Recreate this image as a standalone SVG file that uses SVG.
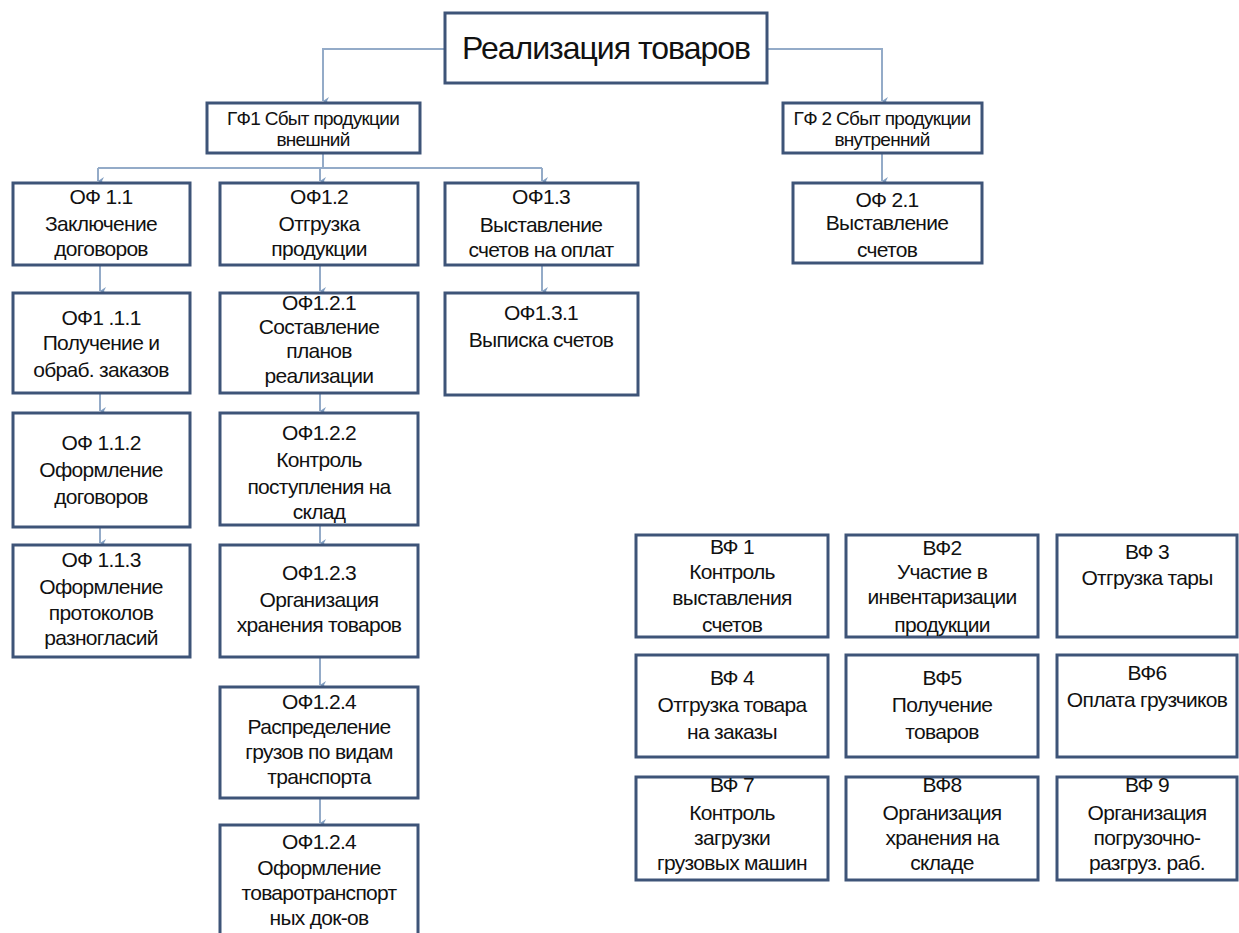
<svg xmlns="http://www.w3.org/2000/svg" width="1239" height="933" viewBox="0 0 1239 933">
<style>
.box{fill:#ffffff;stroke:#3e5478;stroke-width:3}
.t{font-family:"Liberation Sans",Arial,sans-serif;font-size:21px;fill:#111;text-anchor:middle;letter-spacing:-0.7px}
.g{font-family:"Liberation Sans",Arial,sans-serif;font-size:19px;fill:#111;text-anchor:middle;letter-spacing:-0.7px}
.title{font-family:"Liberation Sans",Arial,sans-serif;font-size:32px;fill:#111;text-anchor:middle;letter-spacing:-1px}
.c{fill:none;stroke:#94abc8;stroke-width:2}
</style>
<defs>
<marker id="ah" markerWidth="8" markerHeight="8" refX="4" refY="6" orient="auto-start-reverse" markerUnits="userSpaceOnUse" viewBox="0 0 8 8">
<path d="M0,0 L4,6 L8,0 L4,2 Z" fill="#7f9cc0"/>
</marker>
</defs>
<rect width="1239" height="933" fill="#ffffff"/>
<g id="connectors">
<path class="c" d="M445,49 H323 V101" marker-end="url(#ah)"/>
<path class="c" d="M767,49 H882 V101" marker-end="url(#ah)"/>
<path class="c" d="M323,153 V168"/>
<path class="c" d="M98,168 H542"/>
<path class="c" d="M98,168 V181" marker-end="url(#ah)"/>
<path class="c" d="M320,168 V181" marker-end="url(#ah)"/>
<path class="c" d="M542,168 V181" marker-end="url(#ah)"/>
<path class="c" d="M882,153 V181" marker-end="url(#ah)"/>
<path class="c" d="M100,265 V291" marker-end="url(#ah)"/>
<path class="c" d="M100,393 V411" marker-end="url(#ah)"/>
<path class="c" d="M100,527 V543" marker-end="url(#ah)"/>
<path class="c" d="M320,265 V291" marker-end="url(#ah)"/>
<path class="c" d="M320,393 V411" marker-end="url(#ah)"/>
<path class="c" d="M320,525 V543" marker-end="url(#ah)"/>
<path class="c" d="M320,657 V685" marker-end="url(#ah)"/>
<path class="c" d="M320,798 V823" marker-end="url(#ah)"/>
<path class="c" d="M542,265 V291" marker-end="url(#ah)"/>
</g>
<g id="root"><rect class="box" x="445" y="13" width="322" height="70"/><text class="title" x="606" y="59">Реализация товаров</text></g>
<g id="gf1"><rect class="box" x="207" y="103" width="213" height="50"/><text class="g" x="313" y="125">ГФ1 Сбыт продукции</text><text class="g" x="313" y="146">внешний</text></g>
<g id="gf2"><rect class="box" x="783" y="103" width="199" height="50"/><text class="g" x="882" y="125">ГФ 2 Сбыт продукции</text><text class="g" x="882" y="146">внутренний</text></g>
<g id="of11"><rect class="box" x="13" y="183" width="177" height="82"/><text class="t" x="101" y="204">ОФ 1.1</text><text class="t" x="101" y="231">Заключение</text><text class="t" x="101" y="256">договоров</text></g>
<g id="of111"><rect class="box" x="13" y="293" width="177" height="100"/><text class="t" x="101" y="325">ОФ1 .1.1</text><text class="t" x="101" y="350">Получение и</text><text class="t" x="101" y="377">обраб. заказов</text></g>
<g id="of112"><rect class="box" x="13" y="413" width="177" height="114"/><text class="t" x="101" y="450">ОФ 1.1.2</text><text class="t" x="101" y="477">Оформление</text><text class="t" x="101" y="504">договоров</text></g>
<g id="of113"><rect class="box" x="13" y="545" width="177" height="112"/><text class="t" x="101" y="567">ОФ 1.1.3</text><text class="t" x="101" y="594">Оформление</text><text class="t" x="101" y="620">протоколов</text><text class="t" x="101" y="645">разногласий</text></g>
<g id="of12"><rect class="box" x="220" y="183" width="198" height="82"/><text class="t" x="319" y="204">ОФ1.2</text><text class="t" x="319" y="231">Отгрузка</text><text class="t" x="319" y="256">продукции</text></g>
<g id="of121"><rect class="box" x="220" y="293" width="198" height="100"/><text class="t" x="319" y="310">ОФ1.2.1</text><text class="t" x="319" y="334">Составление</text><text class="t" x="319" y="358">планов</text><text class="t" x="319" y="383">реализации</text></g>
<g id="of122"><rect class="box" x="220" y="413" width="198" height="112"/><text class="t" x="319" y="440">ОФ1.2.2</text><text class="t" x="319" y="467">Контроль</text><text class="t" x="319" y="494">поступления на</text><text class="t" x="319" y="519">склад</text></g>
<g id="of123"><rect class="box" x="220" y="545" width="198" height="112"/><text class="t" x="319" y="580">ОФ1.2.3</text><text class="t" x="319" y="607">Организация</text><text class="t" x="319" y="632">хранения товаров</text></g>
<g id="of124a"><rect class="box" x="220" y="687" width="198" height="111"/><text class="t" x="319" y="709">ОФ1.2.4</text><text class="t" x="319" y="734">Распределение</text><text class="t" x="319" y="759">грузов по видам</text><text class="t" x="319" y="784">транспорта</text></g>
<g id="of124b"><rect class="box" x="220" y="825" width="198" height="120"/><text class="t" x="319" y="849">ОФ1.2.4</text><text class="t" x="319" y="875">Оформление</text><text class="t" x="319" y="900">товаротранспорт</text><text class="t" x="319" y="925">ных док-ов</text></g>
<g id="of13"><rect class="box" x="445" y="183" width="193" height="82"/><text class="t" x="541" y="204">ОФ1.3</text><text class="t" x="541" y="232">Выставление</text><text class="t" x="541" y="257">счетов на оплат</text></g>
<g id="of131"><rect class="box" x="445" y="293" width="193" height="102"/><text class="t" x="541" y="320">ОФ1.3.1</text><text class="t" x="541" y="347">Выписка счетов</text></g>
<g id="of21"><rect class="box" x="793" y="183" width="189" height="80"/><text class="t" x="887" y="207">ОФ 2.1</text><text class="t" x="887" y="230">Выставление</text><text class="t" x="887" y="257">счетов</text></g>
<g id="vf1"><rect class="box" x="636" y="535" width="192" height="102"/><text class="t" x="732" y="554">ВФ 1</text><text class="t" x="732" y="579">Контроль</text><text class="t" x="732" y="605">выставления</text><text class="t" x="732" y="632">счетов</text></g>
<g id="vf2"><rect class="box" x="846" y="535" width="192" height="102"/><text class="t" x="942" y="555">ВФ2</text><text class="t" x="942" y="579">Участие в</text><text class="t" x="942" y="604">инвентаризации</text><text class="t" x="942" y="632">продукции</text></g>
<g id="vf3"><rect class="box" x="1057" y="535" width="180" height="102"/><text class="t" x="1147" y="559">ВФ 3</text><text class="t" x="1147" y="585">Отгрузка тары</text></g>
<g id="vf4"><rect class="box" x="636" y="655" width="192" height="102"/><text class="t" x="732" y="685">ВФ 4</text><text class="t" x="732" y="712">Отгрузка товара</text><text class="t" x="732" y="739">на заказы</text></g>
<g id="vf5"><rect class="box" x="846" y="655" width="192" height="102"/><text class="t" x="942" y="685">ВФ5</text><text class="t" x="942" y="712">Получение</text><text class="t" x="942" y="739">товаров</text></g>
<g id="vf6"><rect class="box" x="1057" y="655" width="180" height="102"/><text class="t" x="1147" y="680">ВФ6</text><text class="t" x="1147" y="707">Оплата грузчиков</text></g>
<g id="vf7"><rect class="box" x="636" y="777" width="192" height="103"/><text class="t" x="732" y="792">ВФ 7</text><text class="t" x="732" y="820">Контроль</text><text class="t" x="732" y="845">загрузки</text><text class="t" x="732" y="870">грузовых машин</text></g>
<g id="vf8"><rect class="box" x="846" y="777" width="192" height="103"/><text class="t" x="942" y="792">ВФ8</text><text class="t" x="942" y="820">Организация</text><text class="t" x="942" y="845">хранения на</text><text class="t" x="942" y="870">складе</text></g>
<g id="vf9"><rect class="box" x="1057" y="777" width="180" height="103"/><text class="t" x="1147" y="792">ВФ 9</text><text class="t" x="1147" y="820">Организация</text><text class="t" x="1147" y="845">погрузочно-</text><text class="t" x="1147" y="870">разгруз. раб.</text></g>
</svg>
